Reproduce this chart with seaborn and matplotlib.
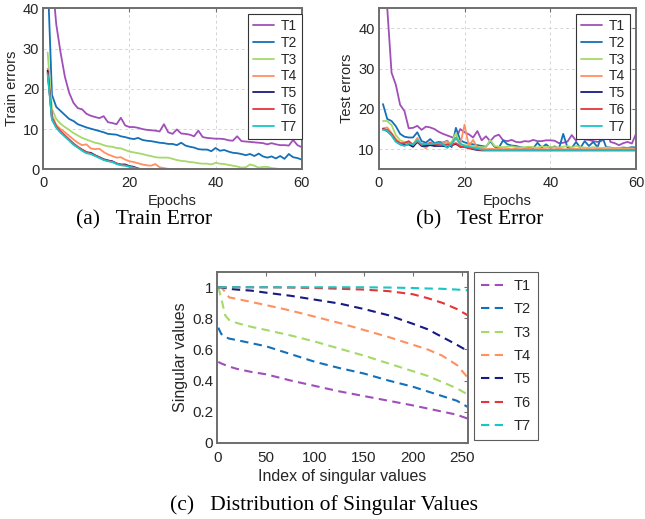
import numpy as np
import pandas as pd
import matplotlib
matplotlib.use("Agg")
import matplotlib.pyplot as plt
import seaborn as sns

# series names and colours (MATLAB-ish palette)
models = ["T1", "T2", "T3", "T4", "T5", "T6", "T7"]
colors = ["#a04fb8", "#1470b8", "#a5d96a", "#ff9060", "#171a80", "#e6343b", "#19c6c6"]

epochs = list(range(1, 61))

# train errors per epoch
train_t1 = [70, 48, 36, 29, 23, 19, 16.5, 15.2, 14.9, 13.8, 13.3, 13.0, 12.7, 13.2, 11.7,
            11.5, 11.2, 12.8, 10.9, 10.5, 10.5, 10.3, 10.0, 9.8, 9.7, 9.6, 9.4, 11.2, 9.2, 8.8,
            9.9, 8.9, 8.8, 8.6, 8.2, 9.6, 8.0, 7.8, 7.7, 7.6, 7.6, 7.5, 7.2, 7.1, 8.2,
            7.0, 6.9, 6.8, 6.7, 6.6, 6.5, 6.2, 6.5, 6.2, 6.0, 6.0, 5.9, 7.3, 6.0, 5.5]
train_t2 = [48, 18.5, 15.5, 14.5, 13.5, 12.5, 12.0, 11.2, 10.8, 10.4, 10.1, 9.8, 9.5, 9.2, 8.8,
            8.7, 8.6, 8.2, 8.0, 7.7, 7.5, 7.8, 7.3, 7.1, 7.0, 6.8, 6.6, 6.5, 6.3, 6.3,
            6.0, 6.6, 5.9, 5.6, 5.4, 5.0, 4.9, 4.9, 4.5, 5.3, 4.6, 4.8, 4.4, 4.1, 4.0,
            3.8, 3.5, 3.8, 3.3, 3.9, 3.2, 2.9, 3.2, 2.7, 3.3, 2.6, 3.8, 3.0, 2.8, 2.4]
train_t3 = [29, 15, 12.5, 11.3, 10.5, 9.8, 9.0, 8.4, 7.8, 7.4, 7.0, 6.6, 6.4, 6.0, 5.7,
            5.6, 5.3, 5.2, 4.8, 4.4, 4.2, 4.0, 3.8, 3.5, 3.3, 3.0, 2.9, 2.9, 2.9, 2.6,
            2.3, 2.1, 2.0, 1.8, 1.7, 1.5, 1.4, 1.4, 1.2, 1.6, 1.4, 1.3, 1.1, 0.9, 0.7,
            0.4, 0.5, 1.2, 0.9, 0.4, 0.6, 0.6, 0.3, 0.2, 0, 0, 0, 0, 0, 0]
train_t4 = [25, 13.5, 11.0, 10.0, 9.2, 8.3, 7.4, 6.6, 6.0, 6.2, 5.2, 5.0, 5.1, 4.3, 3.7,
            3.3, 2.9, 3.0, 2.4, 2.0, 1.8, 1.5, 1.2, 1.0, 0.9, 1.3, 0.5, 0.3, 0.1, 0,
            0, 0, 0, 0, 0, 0, 0, 0, 0, 0, 0, 0, 0, 0, 0,
            0, 0, 0, 0, 0, 0, 0, 0, 0, 0, 0, 0, 0, 0, 0]
train_t5 = [24.5, 12.5, 10.5, 9.3, 8.3, 7.3, 6.3, 5.5, 4.8, 4.2, 4.1, 3.5, 3.0, 2.5, 2.2,
            2.0, 1.4, 1.2, 1.2, 0.8, 0.6, 0.2, 0, 0, 0, 0, 0, 0, 0, 0,
            0, 0, 0, 0, 0, 0, 0, 0, 0, 0, 0, 0, 0, 0, 0,
            0, 0, 0, 0, 0, 0, 0, 0, 0, 0, 0, 0, 0, 0, 0]
train_t6 = [24, 12.8, 10.6, 9.4, 8.4, 7.4, 6.4, 5.6, 4.9, 4.3, 3.9, 3.4, 3.0, 2.4, 2.1,
            1.9, 1.5, 1.1, 1.0, 0.7, 0.4, 0.1, 0, 0, 0, 0, 0, 0, 0, 0,
            0, 0, 0, 0, 0, 0, 0, 0, 0, 0, 0, 0, 0, 0, 0,
            0, 0, 0, 0, 0, 0, 0, 0, 0, 0, 0, 0, 0, 0, 0]
train_t7 = [23.5, 12.3, 10.3, 9.1, 8.1, 7.1, 6.1, 5.4, 4.6, 4.0, 3.8, 3.3, 2.8, 2.3, 2.0,
            1.8, 1.3, 1.0, 0.9, 0.6, 0.4, 0.1, 0, 0, 0, 0, 0, 0, 0, 0,
            0, 0, 0, 0, 0, 0, 0, 0, 0, 0, 0, 0, 0, 0, 0,
            0, 0, 0, 0, 0, 0, 0, 0, 0, 0, 0, 0, 0, 0, 0]

# test errors per epoch
test_t1 = [60, 45, 29, 26, 21, 19.5, 15.2, 15.3, 15.8, 14.8, 15.6, 15.4, 15.0, 14.3, 13.8,
           13.4, 13.0, 12.6, 15.0, 14.2, 13.7, 12.9, 14.5, 12.2, 13.2, 12.0, 13.2, 13.6, 12.2, 12.0,
           12.3, 11.8, 11.7, 12.0, 11.9, 12.3, 12.0, 12.0, 12.2, 12.2, 12.1, 11.5, 11.6, 11.9, 13.5,
           12.1, 13.9, 12.4, 12.3, 12.0, 11.8, 12.1, 16.5, 11.8, 11.5, 11.0, 11.5, 11.8, 11.4, 13.9]
test_t2 = [21.2, 17.5, 17.0, 15.7, 13.8, 13.1, 12.9, 12.9, 14.2, 12.0, 11.6, 12.5, 11.5, 11.8, 11.6,
           12.1, 10.5, 15.3, 12.2, 11.7, 11.4, 11.2, 11.0, 10.8, 10.6, 12.0, 10.6, 10.4, 12.2, 11.2,
           10.9, 10.8, 10.5, 10.3, 10.4, 10.2, 11.6, 10.4, 11.2, 10.3, 10.7, 10.1, 13.8, 10.4, 10.3,
           11.8, 10.3, 12.0, 10.8, 11.8, 10.5, 13.4, 10.5, 10.4, 10.2, 10.3, 10.4, 10.3, 10.5, 10.4]
test_t3 = [17.0, 17.0, 16.0, 13.5, 12.2, 11.8, 11.7, 11.3, 12.6, 11.2, 11.0, 11.5, 11.2, 11.0, 11.3,
           11.2, 11.8, 14.0, 11.2, 11.0, 10.9, 10.8, 10.6, 10.5, 10.5, 12.3, 10.8, 10.6, 10.5, 10.6,
           10.7, 10.5, 10.4, 10.5, 10.6, 10.5, 10.4, 10.7, 10.5, 10.6, 10.5, 10.4, 10.6, 10.8, 10.4,
           10.8, 10.5, 10.4, 10.3, 10.5, 10.4, 10.3, 10.4, 10.3, 10.2, 10.3, 10.2, 10.2, 10.2, 10.1]
test_t4 = [15.2, 15.4, 14.0, 12.5, 11.5, 10.9, 11.5, 11.0, 12.8, 11.0, 10.2, 11.7, 10.8, 11.2, 11.5,
           12.0, 10.9, 12.8, 11.0, 16.1, 10.8, 12.3, 10.4, 10.2, 10.0, 10.1, 10.0, 10.2, 10.0, 10.1,
           10.0, 10.1, 10.0, 10.0, 10.1, 10.0, 10.0, 10.1, 10.0, 10.0, 10.0, 10.1, 10.0, 10.0, 10.0,
           10.1, 10.0, 10.0, 10.0, 10.0, 10.1, 10.0, 10.0, 10.0, 10.0, 10.0, 10.0, 10.0, 10.0, 10.0]
test_t5 = [15.0, 14.5, 13.5, 12.0, 11.2, 11.0, 11.2, 10.6, 11.8, 10.8, 10.8, 11.0, 10.8, 10.8, 10.8,
           10.6, 11.0, 11.3, 10.6, 10.6, 10.3, 10.0, 9.8, 9.7, 9.7, 9.7, 9.7, 9.7, 9.7, 9.7,
           9.7, 9.7, 9.7, 9.7, 9.7, 9.7, 9.7, 9.7, 9.7, 9.7, 9.7, 9.7, 9.7, 9.7, 9.7,
           9.7, 9.7, 9.7, 9.7, 9.7, 9.7, 9.7, 9.7, 9.7, 9.7, 9.7, 9.7, 9.7, 9.7, 9.7]
test_t6 = [15.0, 14.8, 13.8, 12.2, 11.5, 11.5, 12.0, 11.0, 12.0, 11.0, 11.2, 11.5, 11.2, 11.0, 11.0,
           11.2, 11.0, 11.5, 10.6, 10.5, 10.3, 10.1, 9.9, 9.8, 9.8, 9.8, 9.8, 9.8, 9.8, 9.8,
           9.8, 9.8, 9.8, 9.8, 9.8, 9.8, 9.8, 9.8, 9.8, 9.8, 9.8, 9.8, 9.8, 9.8, 9.8,
           9.8, 9.8, 9.8, 9.8, 9.8, 9.8, 9.8, 9.8, 9.8, 9.8, 9.8, 9.8, 9.8, 9.8, 9.8]
test_t7 = [14.8, 14.6, 13.4, 11.8, 11.2, 10.8, 11.4, 11.1, 12.2, 11.3, 11.3, 11.3, 11.4, 11.5, 11.3,
           10.3, 11.4, 12.8, 11.4, 10.8, 10.6, 10.4, 10.2, 9.9, 9.8, 9.8, 9.8, 9.8, 9.8, 9.8,
           9.8, 9.8, 9.8, 9.8, 9.8, 9.8, 9.8, 9.8, 9.8, 9.8, 9.8, 9.8, 9.8, 9.8, 9.8,
           9.8, 9.8, 9.8, 9.8, 9.8, 9.8, 9.8, 9.8, 9.8, 9.8, 9.8, 9.8, 9.8, 9.8, 9.8]

# singular values, sampled along the index
sv_index = [1, 4, 8, 12, 20, 35, 50, 75, 100, 125, 150, 175, 200, 215, 230, 245, 256]
sv_t1 = [0.52, 0.51, 0.50, 0.49, 0.475, 0.455, 0.44, 0.40, 0.365, 0.33, 0.30, 0.27, 0.24, 0.22, 0.20, 0.18, 0.155]
sv_t2 = [0.74, 0.70, 0.68, 0.67, 0.66, 0.64, 0.62, 0.57, 0.52, 0.48, 0.445, 0.40, 0.36, 0.33, 0.30, 0.27, 0.23]
sv_t3 = [1.0, 0.93, 0.82, 0.79, 0.77, 0.745, 0.725, 0.69, 0.65, 0.605, 0.56, 0.51, 0.46, 0.43, 0.39, 0.35, 0.31]
sv_t4 = [1.0, 1.0, 0.97, 0.935, 0.925, 0.905, 0.885, 0.85, 0.81, 0.77, 0.725, 0.68, 0.63, 0.60, 0.56, 0.50, 0.42]
sv_t5 = [1.0, 1.0, 0.995, 0.99, 0.985, 0.978, 0.965, 0.945, 0.92, 0.895, 0.86, 0.82, 0.765, 0.73, 0.68, 0.63, 0.59]
sv_t6 = [1.0, 1.0, 1.0, 1.0, 1.0, 1.0, 1.0, 0.998, 0.995, 0.99, 0.985, 0.975, 0.955, 0.93, 0.90, 0.86, 0.82]
sv_t7 = [1.0, 1.0, 1.0, 1.0, 1.0, 1.0, 1.0, 1.0, 1.0, 1.0, 1.0, 0.998, 0.995, 0.992, 0.99, 0.985, 0.98]

train_all = [train_t1, train_t2, train_t3, train_t4, train_t5, train_t6, train_t7]
test_all = [test_t1, test_t2, test_t3, test_t4, test_t5, test_t6, test_t7]
sv_all = [sv_t1, sv_t2, sv_t3, sv_t4, sv_t5, sv_t6, sv_t7]


def to_long(xs, series, xname, yname):
    rows = []
    for name, vals in zip(models, series):
        for x, v in zip(xs, vals):
            rows.append((name, x, v))
    return pd.DataFrame(rows, columns=["model", xname, yname])


df_train = to_long(epochs, train_all, "epoch", "err")
df_test = to_long(epochs, test_all, "epoch", "err")
df_sv = to_long(sv_index, sv_all, "idx", "sv")

sns.set_theme(style="white")
plt.rcParams["font.family"] = ["Liberation Sans", "DejaVu Sans"]
plt.rcParams["xtick.direction"] = "in"
plt.rcParams["ytick.direction"] = "in"

palette = dict(zip(models, colors))
tick_col = "#262626"
spine_col = "#6e6e6e"

fig = plt.figure(figsize=(6.45, 5.19), dpi=100)
ax_a = fig.add_axes([0.0672, 0.6738, 0.4006, 0.3102])
ax_b = fig.add_axes([0.5871, 0.6738, 0.3992, 0.3102])
ax_c = fig.add_axes([0.3369, 0.1470, 0.3881, 0.3295])


def style_axes(ax, size=10.5):
    for s in ax.spines.values():
        s.set_color(spine_col)
        s.set_linewidth(1.4)
    ax.tick_params(axis="both", which="both", labelsize=size, colors=spine_col,
                   labelcolor=tick_col, top=True, right=True, length=3, width=0.8)
    ax.tick_params(axis="x", pad=5)
    ax.tick_params(axis="y", pad=3)


def small_legend(ax, anchor):
    leg = ax.legend(loc="upper right", bbox_to_anchor=anchor, borderaxespad=0,
                    fontsize=10, frameon=True, fancybox=False, edgecolor="#333333",
                    handlelength=1.5, handletextpad=0.5, labelspacing=0.2,
                    borderpad=0.35)
    leg.get_frame().set_linewidth(0.8)
    leg.get_frame().set_alpha(1)


# (a) train error
sns.lineplot(data=df_train, x="epoch", y="err", hue="model", palette=palette,
             linewidth=1.3, ax=ax_a)
ax_a.set_xlim(0, 60)
ax_a.set_ylim(0, 40)
ax_a.set_xticks([0, 20, 40, 60])
ax_a.set_yticks([0, 10, 20, 30, 40])
ax_a.set_xlabel("Epochs", fontsize=10.5, color=tick_col, labelpad=3)
ax_a.set_ylabel("Train errors", fontsize=10.5, color=tick_col, labelpad=3)
ax_a.grid(True, linestyle=(0, (3, 3)), color="#d4d4d4", linewidth=0.7)
style_axes(ax_a)
small_legend(ax_a, (1.0, 0.963))

# (b) test error
sns.lineplot(data=df_test, x="epoch", y="err", hue="model", palette=palette,
             linewidth=1.3, ax=ax_b)
ax_b.set_xlim(0, 60)
ax_b.set_ylim(5, 45)
ax_b.set_xticks([0, 20, 40, 60])
ax_b.set_yticks([10, 20, 30, 40])
ax_b.set_xlabel("Epochs", fontsize=10.5, color=tick_col, labelpad=3)
ax_b.set_ylabel("Test errors", fontsize=10.5, color=tick_col, labelpad=3)
ax_b.grid(True, linestyle=(0, (3, 3)), color="#d4d4d4", linewidth=0.7)
style_axes(ax_b)
small_legend(ax_b, (0.977, 0.963))

# (c) singular values
sns.lineplot(data=df_sv, x="idx", y="sv", hue="model", style="model", palette=palette,
             dashes=[(4, 2.6)] * len(models), linewidth=1.5, ax=ax_c)
ax_c.set_xlim(0, 256)
ax_c.set_ylim(0, 1.1)
ax_c.set_xticks([0, 50, 100, 150, 200, 250])
ax_c.set_yticks([0, 0.2, 0.4, 0.6, 0.8, 1.0])
ax_c.set_yticklabels(["0", "0.2", "0.4", "0.6", "0.8", "1"])
ax_c.set_xlabel("Index of singular values", fontsize=11.5, color=tick_col, labelpad=3)
ax_c.set_ylabel("Singular values", fontsize=11.5, color=tick_col, labelpad=3)
style_axes(ax_c, size=11)
ax_c.tick_params(axis="x", pad=6)
leg = ax_c.legend(loc="upper left", bbox_to_anchor=(1.025, 1.0), borderaxespad=0,
                  fontsize=10.5, frameon=True, fancybox=False, edgecolor="#333333",
                  handlelength=1.5, handletextpad=0.7, labelspacing=0.64,
                  borderpad=0.5)
leg.get_frame().set_linewidth(0.8)

# sub-captions
cap_font = dict(family=["Liberation Serif", "DejaVu Serif"], fontsize=15.5, color="black")
fig.text(0.223, 0.576, "(a)   Train Error", ha="center", va="center", **cap_font)
fig.text(0.743, 0.576, "(b)   Test Error", ha="center", va="center", **cap_font)
fig.text(0.502, 0.027, "(c)   Distribution of Singular Values", ha="center", va="center", **cap_font)

fig.savefig("out.png", dpi=100)
